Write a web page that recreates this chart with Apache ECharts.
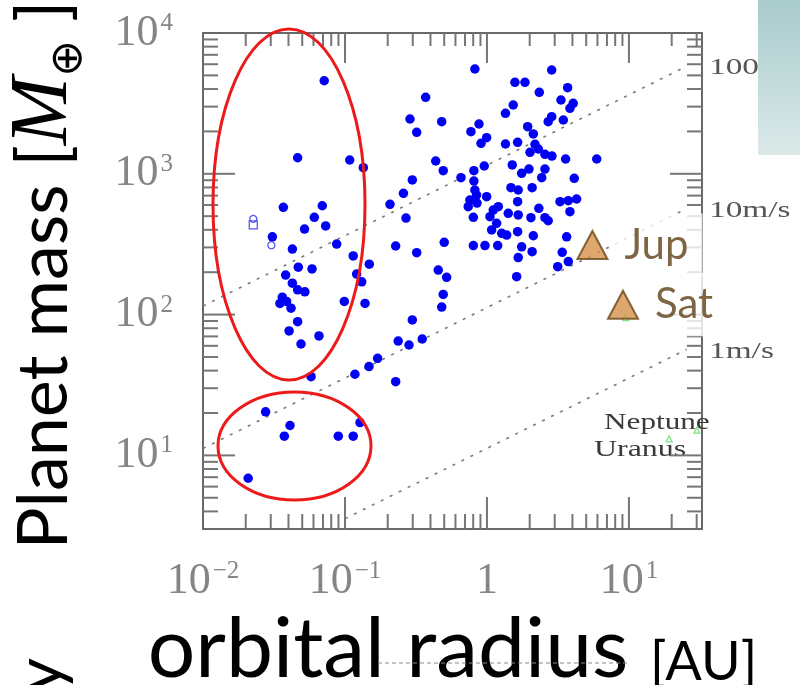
<!DOCTYPE html>
<html>
<head>
<meta charset="utf-8">
<script src="https://cdn.jsdelivr.net/npm/echarts@6/dist/echarts.min.js"></script>
<style>
  html, body { margin: 0; padding: 0; background: #fff; }
  #chart { width: 800px; height: 685px; }
</style>
</head>
<body>
<div id="chart"></div>
<script>
// Known exoplanets: [orbital radius in AU, planet mass in Earth masses]
const exoplanets = [
  [0.0714, 4580], [0.0464, 1300], [0.108, 1253], [0.1346, 1105], [0.0368, 578],
  [0.0692, 593], [0.0608, 491], [0.0519, 405], [0.0731, 426], [0.0308, 357],
  [0.0426, 292], [0.0874, 317], [0.1143, 261], [0.1483, 228], [0.0469, 217],
  [0.0586, 211], [0.0382, 191], [0.0426, 167], [0.0464, 150], [0.0522, 145],
  [0.0362, 133], [0.0388, 124], [0.0348, 120], [0.0417, 111], [0.0464, 89],
  [0.0404, 76.5], [0.0490, 61.8], [0.1208, 194], [0.1312, 171], [0.0989, 124],
  [0.1384, 120], [0.0656, 70.5], [0.0577, 36.2], [0.0276, 20.4], [0.0410, 16.3],
  [0.0374, 13.7], [0.0208, 6.88], [0.1276, 17.1], [0.0897, 13.7], [0.1143, 13.7],
  [0.1175, 37.7], [0.1476, 42.7], [0.1698, 48.9], [0.237, 64.9], [0.2275, 33.4],
  [0.298, 91.6], [0.350, 67.1], [0.2825, 60.8], [0.480, 113], [0.492, 139],
  [0.454, 207], [0.520, 184], [0.2075, 607], [0.258, 727], [0.269, 485],
  [0.2275, 307], [0.287, 2450], [0.298, 904], [0.320, 275], [0.500, 326],
  [0.822, 5550], [0.370, 3490], [0.320, 1970], [0.480, 2345], [0.879, 2258],
  [0.771, 1991], [0.995, 1805], [0.908, 1647], [0.4355, 1233], [0.492, 1052],
  [0.656, 938], [0.809, 1052], [0.957, 1136], [0.809, 889], [0.822, 767],
  [0.758, 651], [0.845, 707], [0.995, 688], [0.738, 584], [0.851, 620],
  [0.802, 491], [1.107, 553], [1.202, 584], [1.05, 496], [1.17, 445],
  [1.079, 399], [1.27, 378], [0.802, 309], [0.968, 309], [1.19, 309],
  [2.857, 5460], [1.574, 4467], [1.852, 4467], [2.336, 3790], [3.70, 4089],
  [1.531, 3080], [1.350, 2690], [3.32, 3343], [4.05, 3167], [3.84, 2918],
  [2.857, 2545], [2.70, 2345], [3.45, 2410], [1.935, 2160], [2.12, 1918],
  [1.350, 1628], [1.644, 1674], [2.18, 1620], [2.30, 1500], [2.01, 1422],
  [2.56, 1376], [2.87, 1337], [3.58, 1274], [5.93, 1274], [1.507, 1155],
  [1.976, 1081], [1.755, 1008], [2.56, 1081], [2.43, 938], [4.12, 929],
  [1.476, 797], [1.66, 767], [2.08, 797], [1.644, 634], [3.27, 634],
  [3.74, 644], [4.28, 662], [3.84, 538], [1.413, 524], [1.66, 510],
  [2.04, 488], [2.32, 569], [2.56, 488], [2.70, 464], [1.377, 367],
  [1.644, 388], [2.12, 363], [3.64, 357], [1.755, 303], [2.08, 280],
  [1.66, 254], [3.39, 277], [3.74, 238], [3.15, 219], [1.618, 186]
];

// Hollow markers (other detections)
const openSquares = [[0.0226, 433]];
const openCircles = [[0.0226, 478], [0.0303, 311]];

// Gas giants of the Solar System
const giantNames = ['Jup', 'Sat'];
const giantOrbit = [5.53, 9.08];
const giantMass = [312, 117.5];

// Ice giants and Saturn's small marker
const iceNames = ['Saturn', 'Uranus', 'Neptune'];
const iceOrbit = [9.5, 19.2, 30.1];
const iceMass = [95, 13.1, 15.1];

// Radial-velocity amplitude lines (M grows as sqrt(a))
const rvLabels = ['100m/s', '10m/s', '1m/s'];
const rvLine100 = [[0.01, 115], [25.5, 5810]];
const rvLine10 = [[0.01, 11.2], [25.5, 566]];
const rvLine1 = [[0.1, 3.55], [25.5, 56.6]];

// Axis ranges and tick values
const X_MIN = 0.01, X_MAX = 32.7;
const Y_MIN = 3, Y_MAX = 10000;
const xTickExponents = [-2, -1, 0, 1];
const yTickExponents = [1, 2, 3, 4];
const xMajorTicks = [0.1, 1, 10];
const yMajorTicks = [10, 100, 1000];
const xMinorTicks = [0.02, 0.03, 0.04, 0.05, 0.06, 0.07, 0.08, 0.09,
  0.2, 0.3, 0.4, 0.5, 0.6, 0.7, 0.8, 0.9, 2, 3, 4, 5, 6, 7, 8, 9, 20, 30];
const yMinorTicks = [4, 5, 6, 7, 8, 9, 20, 30, 40, 50, 60, 70, 80, 90,
  200, 300, 400, 500, 600, 700, 800, 900, 2000, 3000, 4000, 5000, 6000, 7000, 8000, 9000];

const GRID = { left: 203, top: 33, width: 499, height: 496 };

const SERIF = '"Liberation Serif", "DejaVu Serif", serif';
const SANS = 'Lato, "Noto Sans", sans-serif';
const LABEL_GRAY = '#858585';

function powerLabel(exponents) {
  return function (v) {
    const lg = Math.log10(v);
    const e = Math.round(lg);
    if (Math.abs(lg - e) > 1e-6 || exponents.indexOf(e) < 0) return '';
    if (e === 0) return '{b|1}';
    return '{b|10}{s|' + (e < 0 ? '\u2212' + (-e) : e) + '}';
  };
}

const tickRich = {
  b: { fontFamily: SERIF, fontSize: 44, color: LABEL_GRAY, verticalAlign: 'bottom' },
  s: { fontFamily: SERIF, fontSize: 25, color: LABEL_GRAY, verticalAlign: 'top', padding: [0, 0, 16, 2] }
};

// one side of the frame
function sideAxis(position, min, max, extra) {
  return Object.assign({
    type: 'log', logBase: 10, position: position, min: min, max: max,
    axisLine: { show: true, lineStyle: { color: '#686868', width: 2 } },
    axisTick: { show: false },
    axisLabel: { show: false },
    splitLine: { show: false }
  }, extra || {});
}

const dotted = { color: '#7a7a7a', width: 1.6, type: [3, 7] };

// annotations drawn over the plot
const decorations = [
  { type: 'text', x: 709, y: 68, z: 4, scaleX: 1.45, silent: true,
    style: { text: rvLabels[0], fontFamily: SERIF, fontSize: 23, fill: '#555', verticalAlign: 'middle' } },
  { type: 'text', x: 709, y: 211, z: 4, scaleX: 1.45, silent: true,
    style: { text: rvLabels[1], fontFamily: SERIF, fontSize: 23, fill: '#555', verticalAlign: 'middle' } },
  { type: 'text', x: 709, y: 352, z: 4, scaleX: 1.45, silent: true,
    style: { text: rvLabels[2], fontFamily: SERIF, fontSize: 23, fill: '#555', verticalAlign: 'middle' } },
  { type: 'text', x: 604, y: 423, z: 4, scaleX: 1.3, silent: true,
    style: { text: iceNames[2], fontFamily: SERIF, fontSize: 24, fill: '#3a3a3a', verticalAlign: 'middle' } },
  { type: 'text', x: 594, y: 450, z: 4, scaleX: 1.33, silent: true,
    style: { text: iceNames[1], fontFamily: SERIF, fontSize: 24, fill: '#3a3a3a', verticalAlign: 'middle' } },
  { type: 'ellipse', z: 35, silent: true,
    shape: { cx: 289, cy: 204.5, rx: 76, ry: 175.5 },
    style: { fill: 'none', stroke: '#ec1a1a', lineWidth: 3 } },
  { type: 'ellipse', z: 35, silent: true,
    shape: { cx: 294.5, cy: 446, rx: 76.5, ry: 54 },
    style: { fill: 'none', stroke: '#ec1a1a', lineWidth: 3 } },
  { type: 'rect', z: 45, silent: true,
    shape: { x: 758, y: 0, width: 42, height: 155 },
    style: { fill: { type: 'linear', x: 0, y: 0, x2: 0, y2: 1,
      colorStops: [{ offset: 0, color: '#a8cbcb' }, { offset: 1, color: '#dce9e9' }] } } },
  { type: 'line', z: 4, silent: true,
    shape: { x1: 378, y1: 663, x2: 630, y2: 663 },
    style: { stroke: '#8a8a8a', lineWidth: 1, lineDash: [4, 3] } },
  { type: 'text', x: 41, y: 692, z: 4, rotation: Math.PI / 2, silent: true,
    style: { text: 'y', fontFamily: SANS, fontSize: 66, fill: '#000', verticalAlign: 'middle' } }
];

const chart = echarts.init(document.getElementById('chart'), null, { renderer: 'canvas' });

try {
  chart.setOption({
    animation: false,
    grid: Object.assign({ outerBoundsMode: 'none' }, GRID),
    xAxis: [
      sideAxis('bottom', X_MIN, X_MAX, {
        axisLabel: { show: true, interval: 0, margin: 30, formatter: powerLabel(xTickExponents), rich: tickRich },
        name: 'orbital radius {u|[AU]}',
        nameLocation: 'middle', nameGap: 78,
        nameTextStyle: {
          fontFamily: SANS, fontSize: 84, color: '#000',
          rich: { u: { fontFamily: SANS, fontSize: 54, color: '#000', verticalAlign: 'bottom', padding: [0, 0, 2, 0] } }
        }
      }),
      sideAxis('top', X_MIN, X_MAX)
    ],
    yAxis: [
      sideAxis('left', Y_MIN, Y_MAX, {
        axisLabel: { show: true, interval: 0, margin: 30, formatter: powerLabel(yTickExponents), rich: tickRich },
        name: 'Planet mass [{m|M}{e|\u2295} ]',
        nameLocation: 'middle', nameGap: 111, nameRotate: 90,
        nameTextStyle: {
          fontFamily: SANS, fontSize: 70, lineHeight: 96, color: '#000', padding: [0, 0, 0, 12],
          rich: {
            m: { fontFamily: SERIF, fontStyle: 'italic', fontSize: 82, lineHeight: 96, color: '#000' },
            e: { fontFamily: '"DejaVu Sans", sans-serif', fontSize: 44, lineHeight: 44, color: '#000', verticalAlign: 'bottom' }
          }
        }
      }),
      sideAxis('right', Y_MIN, Y_MAX)
    ],
    series: [
      { type: 'line', name: rvLabels[0], data: rvLine100, symbol: 'none', silent: true, z: 2, lineStyle: dotted },
      { type: 'line', name: rvLabels[1], data: rvLine10, symbol: 'none', silent: true, z: 2, lineStyle: dotted },
      { type: 'line', name: rvLabels[2], data: rvLine1, symbol: 'none', silent: true, z: 2, lineStyle: dotted },
      {
        type: 'scatter', name: 'exoplanets', data: exoplanets, z: 3,
        symbol: 'circle', symbolSize: 9.5,
        itemStyle: { color: '#0000f2', opacity: 1 }
      },
      {
        type: 'scatter', name: 'open squares', data: openSquares, z: 3,
        symbol: 'rect', symbolSize: 8,
        itemStyle: { color: 'transparent', borderColor: '#3030f0', borderWidth: 1.3 }
      },
      {
        type: 'scatter', name: 'open circles', data: openCircles, z: 3,
        symbol: 'circle', symbolSize: 7,
        itemStyle: { color: 'transparent', borderColor: '#3030f0', borderWidth: 1.3 }
      },
      {
        type: 'scatter', name: 'ice giants', z: 3, clip: false,
        data: iceOrbit.map((a, i) => ({ name: iceNames[i], value: [a, iceMass[i]] })),
        symbol: 'triangle', symbolSize: 6,
        itemStyle: { color: 'transparent', borderColor: '#5de05d', borderWidth: 1.2 }
      },
      {
        type: 'scatter', name: 'gas giants', z: 40, clip: false,
        data: giantOrbit.map((a, i) => ({ name: giantNames[i], value: [a, giantMass[i]] })),
        symbol: 'triangle', symbolSize: [30, 28],
        itemStyle: { color: '#d5914a', borderColor: '#6b4718', borderWidth: 2 },
        label: {
          show: true, position: 'right', distance: 1,
          formatter: p => p.name,
          fontFamily: SANS, fontSize: 42, color: '#5e3f14',
          lineHeight: 42,
          backgroundColor: '#ffffff',
          padding: [17, 14, 4, 15]
        }
      }
    ],
    graphic: decorations
  });
} catch (err) {
  // keep going: the frame ticks below are added independently
}

// maps a data point to pixels through the grid's log scales
function toPixel(pt) {
  let p = null;
  try { p = chart.convertToPixel({ xAxisIndex: 0, yAxisIndex: 0 }, pt); } catch (e) { p = null; }
  if (!p || !isFinite(p[0]) || !isFinite(p[1])) {
    const lx0 = Math.log10(X_MIN), lx1 = Math.log10(X_MAX);
    const ly0 = Math.log10(Y_MIN), ly1 = Math.log10(Y_MAX);
    p = [GRID.left + GRID.width * (Math.log10(pt[0]) - lx0) / (lx1 - lx0),
         GRID.top + GRID.height * (ly1 - Math.log10(pt[1])) / (ly1 - ly0)];
  }
  return p;
}

// inward tick marks on all four sides of the frame
function frameTicks() {
  const els = [];
  const st = { stroke: '#767676', lineWidth: 2 };
  const add = (x1, y1, x2, y2) => els.push({ type: 'line', z: 30, silent: true, shape: { x1: x1, y1: y1, x2: x2, y2: y2 }, style: st });
  const xTicks = (values, lenB, lenT) => values.forEach(v => {
    const b = toPixel([v, Y_MIN]), t = toPixel([v, Y_MAX]);
    add(b[0], b[1], b[0], b[1] - lenB);
    add(t[0], t[1], t[0], t[1] + lenT);
  });
  const yTicks = (values, len) => values.forEach(v => {
    const l = toPixel([X_MIN, v]), r = toPixel([X_MAX, v]);
    add(l[0], l[1], l[0] + len, l[1]);
    add(r[0], r[1], r[0] - len, r[1]);
  });
  xTicks(xMajorTicks, 32, 30);
  xTicks(xMinorTicks, 15, 13);
  yTicks(yMajorTicks, 32);
  yTicks(yMinorTicks, 15);
  return els;
}

try {
  chart.setOption({ graphic: decorations.concat(frameTicks()) });
} catch (err) {
  // nothing else to draw
}
</script>
</body>
</html>
